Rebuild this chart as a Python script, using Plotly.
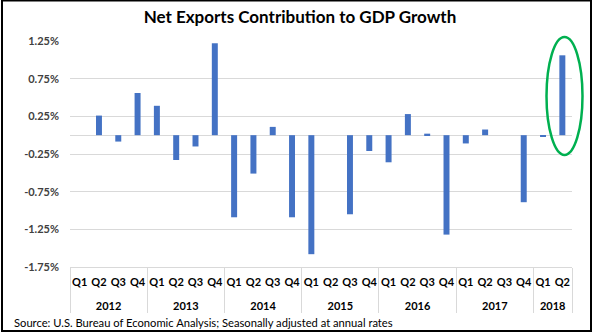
import plotly.graph_objects as go

years = ["2012", "2013", "2014", "2015", "2016", "2017", "2018"]
quarters_per_year = [["Q1", "Q2", "Q3", "Q4"]] * 6 + [["Q1", "Q2"]]
values = [
    0.0, 0.26, -0.085, 0.56,
    0.39, -0.33, -0.15, 1.22,
    -1.09, -0.51, 0.11, -1.09,
    -1.58, 0.0, -1.05, -0.21,
    -0.36, 0.28, 0.02, -1.32,
    -0.11, 0.075, 0.0, -0.89,
    -0.02, 1.06,
]
y_ticks = [-1.75, -1.25, -0.75, -0.25, 0.25, 0.75, 1.25]
y_tick_text = [f"{v:.2f}%" for v in y_ticks]

x_years = [y for y, qs in zip(years, quarters_per_year) for _ in qs]
x_quarters = [q for qs in quarters_per_year for q in qs]
n = len(x_quarters)

# category-index helpers for the two label rows and the group dividers
quarter_pos = list(range(n))
year_centers, boundaries = [], [-0.5]
start = 0
for qs in quarters_per_year:
    year_centers.append(start + (len(qs) - 1) / 2)
    start += len(qs)
    boundaries.append(start - 0.5)

FONT = "Lato"
W, H = 594, 334
L, R, T, B = 70, 22, 41, 67
PW, PH = W - L - R, H - T - B
XR = [-0.5, n - 0.5]
GRID = "#D9D9D9"
TICKFONT = dict(family=FONT, size=11, color="#000000", weight="bold")


def px_x(x):
    return (x - L) / PW


def px_y(y):
    return (H - B - y) / PH


fig = go.Figure(
    go.Bar(
        x=[x_years, x_quarters],
        y=values,
        marker_color="#4472C4",
        marker_line_width=0,
    )
)

# invisible helper traces so the overlay label axes get drawn
for ax_name in ("x2", "x3", "x4"):
    fig.add_trace(
        go.Scatter(
            x=[XR[0], XR[1]], y=[0, 0], xaxis=ax_name, yaxis="y",
            mode="lines", line=dict(width=0, color="rgba(0,0,0,0)"),
            hoverinfo="skip", showlegend=False,
        )
    )

fig.update_layout(
    width=W,
    height=H,
    margin=dict(l=L, r=R, t=T, b=B),
    plot_bgcolor="white",
    paper_bgcolor="white",
    bargap=0.69,
    showlegend=False,
    title=dict(
        text="<b>Net Exports Contribution to GDP Growth</b>",
        font=dict(family=FONT, size=17, color="#000000"),
        xref="container", x=0.505, xanchor="center",
        yref="container", y=1 - 17 / H, yanchor="middle",
    ),
    font=dict(family=FONT),
    xaxis=dict(
        type="multicategory",
        range=XR,
        showticklabels=False,
        showdividers=False,
        showline=False,
        ticks="",
        showgrid=False,
    ),
    # quarter labels
    xaxis2=dict(
        overlaying="x", anchor="y", side="bottom",
        type="linear", range=XR,
        tickmode="array", tickvals=quarter_pos, ticktext=x_quarters,
        ticks="", ticklabelstandoff=7, tickangle=0,
        tickfont=TICKFONT,
        showgrid=False, zeroline=False, showline=False,
    ),
    # year labels
    xaxis3=dict(
        overlaying="x", anchor="y", side="bottom",
        type="linear", range=XR,
        tickmode="array", tickvals=year_centers, ticktext=years,
        ticks="", ticklabelstandoff=31, tickangle=0,
        tickfont=TICKFONT,
        showgrid=False, zeroline=False, showline=False,
    ),
    # axis line and group dividers below it
    xaxis4=dict(
        overlaying="x", anchor="y", side="bottom",
        type="linear", range=XR,
        tickmode="array", tickvals=boundaries,
        ticks="outside", ticklen=45, tickwidth=1, tickcolor=GRID,
        showticklabels=False,
        showgrid=False, zeroline=False,
        showline=True, linecolor=GRID, linewidth=1,
    ),
)

fig.update_yaxes(
    range=[-1.75, 1.25],
    tickvals=y_ticks,
    ticktext=y_tick_text,
    tickfont=dict(family=FONT, size=11, color="#404040", weight="bold"),
    showgrid=True,
    gridcolor=GRID,
    gridwidth=1,
    zeroline=True,
    zerolinecolor=GRID,
    zerolinewidth=1,
    showline=False,
    ticks="",
    ticklabelstandoff=10,
)

# highlight ellipse around the latest quarter
fig.add_shape(
    type="circle",
    xref="paper", yref="paper",
    x0=px_x(546.5), x1=px_x(582.5),
    y0=px_y(155), y1=px_y(37),
    line=dict(color="#00B050", width=2.5),
    fillcolor="rgba(0,0,0,0)",
)

# outer frame
fig.add_shape(
    type="rect",
    xref="paper", yref="paper",
    x0=px_x(2), x1=px_x(591),
    y0=px_y(331), y1=px_y(0.5),
    line=dict(color="#000000", width=2),
    fillcolor="rgba(0,0,0,0)",
)

fig.add_annotation(
    text="Source: U.S. Bureau of Economic Analysis; Seasonally adjusted at annual rates",
    xref="paper", yref="paper",
    x=px_x(12), y=px_y(322),
    xanchor="left", yanchor="middle",
    showarrow=False,
    font=dict(family=FONT, size=11.2, color="#000000"),
)

fig.write_html("out.html")
